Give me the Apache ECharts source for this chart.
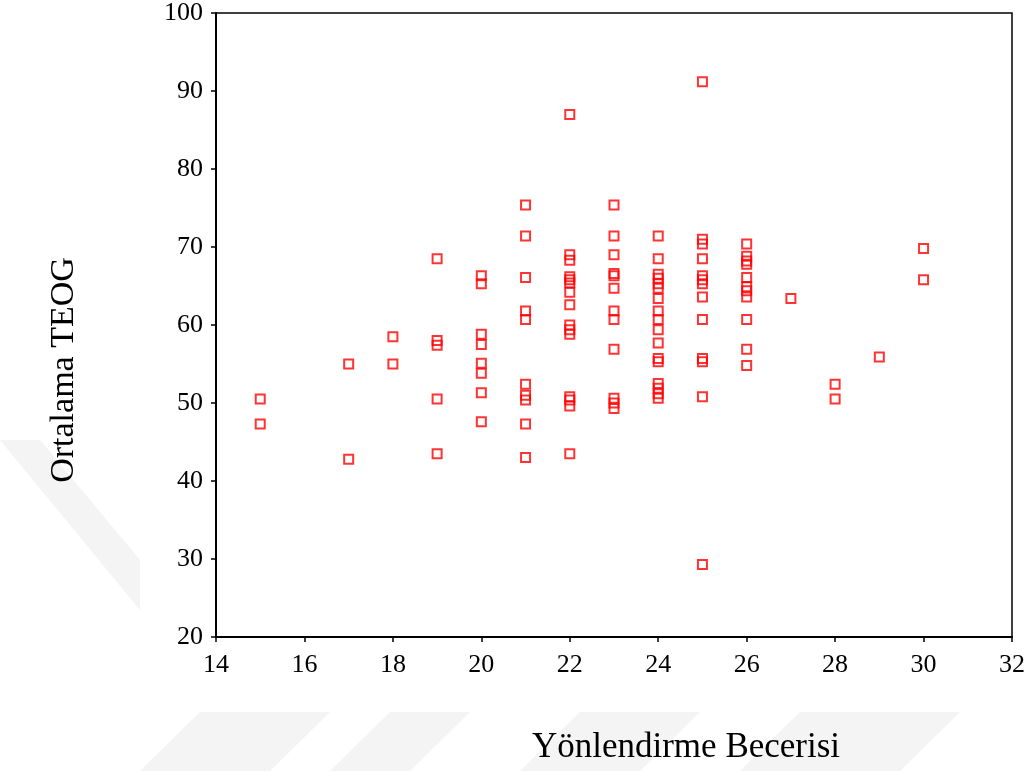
<!DOCTYPE html>
<html>
<head>
<meta charset="utf-8">
<script src="https://cdn.jsdelivr.net/npm/echarts@6/dist/echarts.min.js"></script>
<style>html,body{margin:0;padding:0;background:#fff;}#c{width:1028px;height:771px;}</style>
</head>
<body>
<div id="c"></div>
<script>
// Yönlendirme Becerisi (x) -> Ortalama TEOG values (y)
const x15 = [50.5, 47.3];
const x17 = [55.0, 42.8];
const x18 = [58.5, 55.0];
const x19 = [68.5, 58.0, 57.4, 50.5, 43.5];
const x20 = [66.3, 65.3, 58.8, 57.5, 55.1, 53.8, 51.3, 47.6];
const x21 = [75.4, 71.4, 66.1, 61.8, 60.7, 52.4, 51.0, 50.4, 47.3, 43.0];
const x22 = [87.0, 69.0, 68.3, 66.2, 65.8, 65.4, 64.2, 62.6, 60.0, 59.4, 58.8, 50.8, 50.4, 49.6, 43.5];
const x23 = [75.4, 71.4, 69.0, 66.6, 66.3, 64.7, 61.8, 60.7, 56.9, 50.6, 50.0, 49.3];
const x24 = [71.4, 68.5, 66.5, 66.0, 65.3, 64.7, 63.4, 61.8, 60.7, 59.4, 57.7, 55.7, 55.3, 52.5, 51.9, 51.2, 50.6];
const x25 = [91.2, 71.0, 70.4, 68.5, 66.3, 65.8, 65.3, 63.6, 60.7, 55.7, 55.3, 50.8, 29.3];
const x26 = [70.4, 68.8, 68.2, 67.8, 66.1, 64.9, 64.4, 63.6, 60.7, 56.9, 54.8];
const x27 = [63.4];
const x28 = [52.4, 50.5];
const x29 = [55.9];
const x30 = [69.8, 65.8];

const groups = [[15,x15],[17,x17],[18,x18],[19,x19],[20,x20],[21,x21],[22,x22],[23,x23],[24,x24],[25,x25],[26,x26],[27,x27],[28,x28],[29,x29],[30,x30]];
const points = [];
groups.forEach(([x, ys]) => ys.forEach(y => points.push([x, y])));

const serif = 'Liberation Serif';
const chart = echarts.init(document.getElementById('c'));

const wm = '#f4f4f4';
chart.setOption({
  animation: false,
  backgroundColor: '#fff',
  grid: { left: 216, top: 13, right: 15, bottom: 134, show: true, borderColor: '#000', borderWidth: 1.5, backgroundColor: 'transparent' },
  xAxis: {
    type: 'value', min: 14, max: 32, interval: 2,
    axisLine: { show: true, onZero: false, lineStyle: { color: '#000', width: 2 } },
    axisTick: { show: true, inside: false, length: 5, lineStyle: { color: '#000', width: 1.5 } },
    axisLabel: { color: '#000', fontFamily: serif, fontSize: 26, margin: 15 },
    splitLine: { show: false }
  },
  yAxis: {
    type: 'value', min: 20, max: 100, interval: 10,
    axisLine: { show: true, onZero: false, lineStyle: { color: '#000', width: 2 } },
    axisTick: { show: true, inside: false, length: 5, lineStyle: { color: '#000', width: 1.5 } },
    axisLabel: { color: '#000', fontFamily: serif, fontSize: 26, margin: 13 },
    splitLine: { show: false }
  },
  graphic: [
    { type: 'polygon', z: -10, silent: true, shape: { points: [[0,440],[40,440],[140,560],[140,610]] }, style: { fill: wm } },
    { type: 'polygon', z: -10, silent: true, shape: { points: [[140,771],[200,712],[330,712],[270,771]] }, style: { fill: wm } },
    { type: 'polygon', z: -10, silent: true, shape: { points: [[330,771],[390,712],[470,712],[410,771]] }, style: { fill: wm } },
    { type: 'polygon', z: -10, silent: true, shape: { points: [[520,771],[580,712],[700,712],[640,771]] }, style: { fill: wm } },
    { type: 'polygon', z: -10, silent: true, shape: { points: [[740,771],[800,712],[960,712],[900,771]] }, style: { fill: wm } },
    { type: 'text', x: 64, y: 370, rotation: Math.PI / 2,
      style: { text: 'Ortalama TEOG', fontFamily: serif, fontSize: 34, fill: '#000', align: 'center', verticalAlign: 'middle' } },
    { type: 'text', x: 686, y: 748,
      style: { text: 'Yönlendirme Becerisi', fontFamily: serif, fontSize: 35, fill: '#000', align: 'center', verticalAlign: 'middle' } }
  ],
  series: [{
    type: 'scatter',
    data: points,
    symbol: 'rect',
    symbolSize: 9,
    itemStyle: { color: 'rgba(255,255,255,0)', borderColor: '#ff0000', borderWidth: 2 }
  }]
});
</script>
</body>
</html>
